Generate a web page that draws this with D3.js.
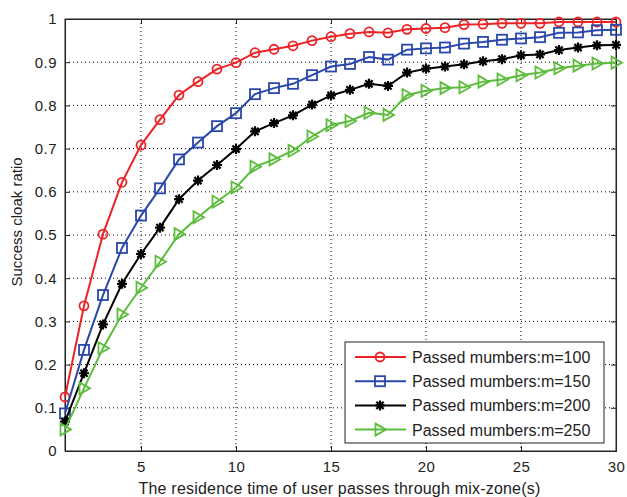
<!DOCTYPE html>
<html>
<head>
<meta charset="utf-8">
<script src="https://cdn.jsdelivr.net/npm/d3@7"></script>
<style>
  body { margin: 0; background: #fff; }
  text { font-family: "Liberation Sans", Arial, sans-serif; }
</style>
</head>
<body>
<svg width="627" height="497"></svg>
<script>
(function () {

  // x values: residence time, 1..30
  var times = [1, 2, 3, 4, 5, 6, 7, 8, 9, 10, 11, 12, 13, 14, 15,
    16, 17, 18, 19, 20, 21, 22, 23, 24, 25, 26, 27, 28, 29, 30]

  // success cloak ratio
  var m100 = [0.125, 0.336, 0.502, 0.622, 0.708, 0.767, 0.824, 0.855, 0.884, 0.899,
    0.922, 0.930, 0.938, 0.950, 0.959, 0.966, 0.970, 0.968, 0.976, 0.978,
    0.980, 0.987, 0.988, 0.990, 0.990, 0.990, 0.993, 0.993, 0.993, 0.993]
  var m150 = [0.087, 0.234, 0.361, 0.470, 0.545, 0.608, 0.675, 0.714, 0.752, 0.782,
    0.826, 0.840, 0.850, 0.870, 0.890, 0.896, 0.912, 0.906, 0.929, 0.932,
    0.934, 0.943, 0.947, 0.952, 0.955, 0.958, 0.968, 0.969, 0.974, 0.975]
  var m200 = [0.068, 0.180, 0.293, 0.387, 0.456, 0.517, 0.583, 0.626, 0.662, 0.699,
    0.740, 0.759, 0.777, 0.802, 0.823, 0.836, 0.850, 0.845, 0.876, 0.885,
    0.890, 0.895, 0.902, 0.907, 0.916, 0.918, 0.928, 0.934, 0.939, 0.940]
  var m250 = [0.050, 0.145, 0.238, 0.316, 0.378, 0.438, 0.502, 0.541, 0.577, 0.610,
    0.658, 0.675, 0.695, 0.728, 0.754, 0.764, 0.783, 0.778, 0.824, 0.834,
    0.840, 0.842, 0.855, 0.860, 0.870, 0.876, 0.886, 0.892, 0.897, 0.899]

  var seriesNames = ['Passed mumbers:m=100', 'Passed mumbers:m=150',
    'Passed mumbers:m=200', 'Passed mumbers:m=250']
  var xTicks = [5, 10, 15, 20, 25, 30]
  var yTicks = [0, 0.1, 0.2, 0.3, 0.4, 0.5, 0.6, 0.7, 0.8, 0.9, 1]

  var series = [
    { name: seriesNames[0], values: m100, color: '#ec2326', marker: 'circle' },
    { name: seriesNames[1], values: m150, color: '#2a48ab', marker: 'square' },
    { name: seriesNames[2], values: m200, color: '#000000', marker: 'star' },
    { name: seriesNames[3], values: m250, color: '#5cbc3c', marker: 'triangle' }
  ]

  var left = 65, right = 616, top = 19, bottom = 451

  var x = d3.scaleLinear().domain([1, 30]).range([left, right])
  var y = d3.scaleLinear().domain([0, 1]).range([bottom, top])

  var svg = d3.select('svg')

  // dotted grid
  var grid = svg.append('g')
  grid.selectAll('.gx')
    .data(xTicks.filter(d => d < 30))
    .enter().append('line')
    .attr('x1', d => x(d)).attr('x2', d => x(d))
    .attr('y1', top).attr('y2', bottom)
    .attr('stroke', '#000').attr('stroke-width', 1)
    .attr('stroke-dasharray', '1,3')
  grid.selectAll('.gy')
    .data(yTicks.filter(d => d > 0 && d < 1))
    .enter().append('line')
    .attr('x1', left).attr('x2', right)
    .attr('y1', d => y(d)).attr('y2', d => y(d))
    .attr('stroke', '#000').attr('stroke-width', 1)
    .attr('stroke-dasharray', '1,3')

  // axes (ticks pointing inward, MATLAB style)
  var xAxis = d3.axisBottom(x).tickValues(xTicks).tickSize(-5).tickPadding(10)
  var yAxis = d3.axisLeft(y).tickValues(yTicks).tickSize(-5).tickPadding(8)
    .tickFormat(d3.format('~g'))

  svg.append('g').attr('transform', 'translate(0,' + bottom + ')').call(xAxis)
  svg.append('g').attr('transform', 'translate(' + left + ',0)').call(yAxis)
  svg.append('g').attr('transform', 'translate(0,' + top + ')')
    .call(d3.axisTop(x).tickValues(xTicks).tickSize(-5).tickFormat(''))
  svg.append('g').attr('transform', 'translate(' + right + ',0)')
    .call(d3.axisRight(y).tickValues(yTicks).tickSize(-5).tickFormat(''))

  svg.selectAll('.domain').attr('stroke', '#222')
  svg.selectAll('.tick line').attr('stroke', '#222')
  svg.selectAll('.tick text')
    .attr('font-family', '"Liberation Sans", Arial, sans-serif')
    .attr('font-size', 15)
    .attr('letter-spacing', 0.5)
    .attr('fill', '#222')

  // box
  svg.append('rect')
    .attr('x', left).attr('y', top)
    .attr('width', right - left).attr('height', bottom - top)
    .attr('fill', 'none').attr('stroke', '#222').attr('stroke-width', 1)

  var line = d3.line()
    .x((d, i) => x(times[i]))
    .y(d => y(d))

  function drawMarker(g, type, color) {
    if (type === 'circle') {
      g.append('circle').attr('r', 4.5)
        .attr('fill', 'none').attr('stroke', color).attr('stroke-width', 1.8)
    } else if (type === 'square') {
      g.append('rect').attr('x', -5).attr('y', -5).attr('width', 10).attr('height', 10)
        .attr('fill', 'none').attr('stroke', color).attr('stroke-width', 1.8)
    } else if (type === 'triangle') {
      g.append('path').attr('d', 'M-4.5,-6L6,0L-4.5,6Z')
        .attr('fill', 'none').attr('stroke', color).attr('stroke-width', 1.8)
    } else {
      g.append('path')
        .attr('d', 'M-5,0L5,0M0,-5L0,5M-3.6,-3.6L3.6,3.6M-3.6,3.6L3.6,-3.6')
        .attr('stroke', color).attr('stroke-width', 2.2)
      g.append('circle').attr('r', 2.2).attr('fill', color)
    }
  }

  series.forEach(function (s) {
    svg.append('path')
      .datum(s.values)
      .attr('d', line)
      .attr('fill', 'none')
      .attr('stroke', s.color)
      .attr('stroke-width', 2)

    svg.append('g').selectAll('g')
      .data(s.values)
      .enter().append('g')
      .attr('transform', (d, i) => 'translate(' + x(times[i]) + ',' + y(d) + ')')
      .each(function () { drawMarker(d3.select(this), s.marker, s.color) })
  })

  // legend
  var legend = svg.append('g').attr('transform', 'translate(345,342)')
  legend.append('rect')
    .attr('width', 259).attr('height', 101)
    .attr('fill', '#fff').attr('stroke', '#222').attr('stroke-width', 1)

  var items = legend.selectAll('.item')
    .data(series)
    .enter().append('g')
    .attr('transform', (d, i) => 'translate(0,' + (15 + i * 24.2) + ')')
  items.append('line')
    .attr('x1', 10).attr('x2', 61)
    .attr('stroke', d => d.color).attr('stroke-width', 2)
  items.append('g')
    .attr('transform', 'translate(35,0)')
    .each(function (d) { drawMarker(d3.select(this), d.marker, d.color) })
  items.append('text')
    .attr('x', 67).attr('y', 6)
    .attr('font-size', 16)
    .attr('fill', '#222')
    .text(d => d.name)

  // axis labels
  svg.append('text')
    .attr('x', (left + right) / 2 - 1).attr('y', 494)
    .attr('text-anchor', 'middle')
    .attr('font-size', 16)
    .attr('letter-spacing', 0.2)
    .attr('fill', '#222')
    .text('The residence time of user passes through mix-zone(s)')

  svg.append('text')
    .attr('transform', 'translate(22,222) rotate(-90)')
    .attr('text-anchor', 'middle')
    .attr('font-size', 15)
    .attr('fill', '#222')
    .text('Success cloak ratio')

})()
</script>
</body>
</html>
